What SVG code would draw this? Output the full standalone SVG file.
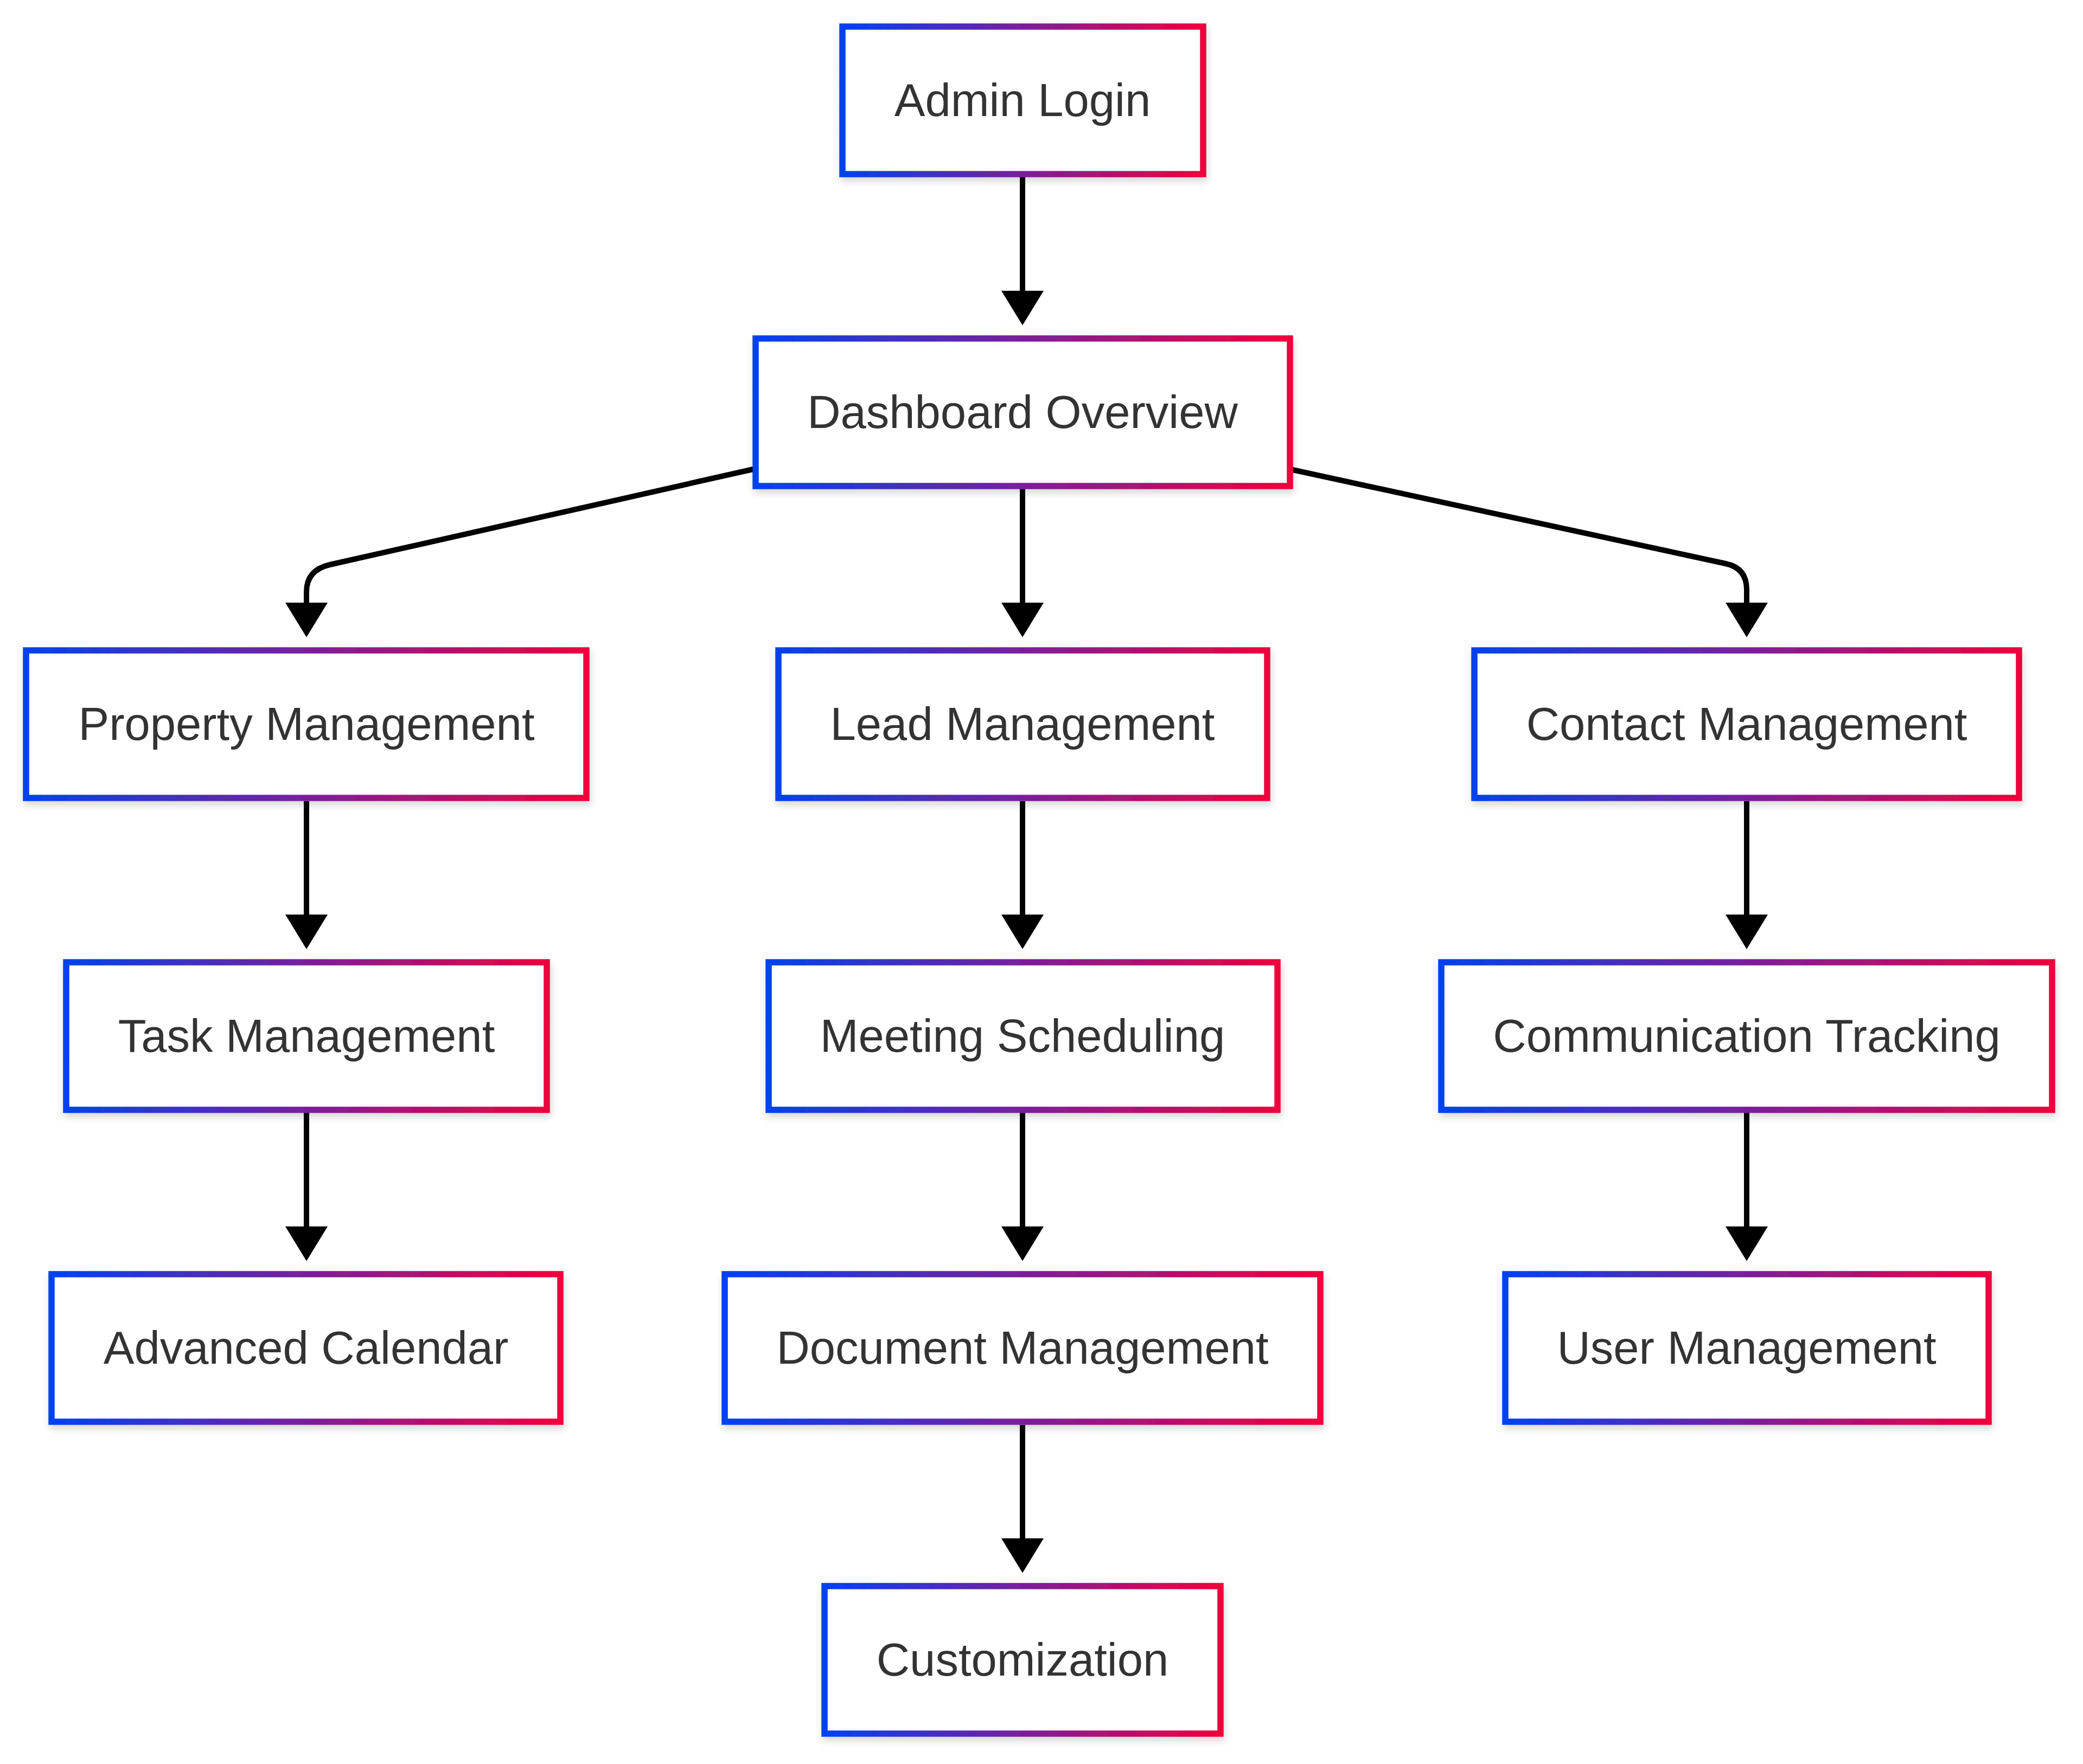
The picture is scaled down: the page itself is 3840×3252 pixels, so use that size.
<svg xmlns="http://www.w3.org/2000/svg" width="3840" height="3252" viewBox="0 0 3840 3252">
<defs>
<linearGradient id="grad" x1="0" y1="0" x2="1" y2="0">
<stop offset="0" stop-color="#0042ee"/>
<stop offset="0.5" stop-color="#7a1f9c"/>
<stop offset="1" stop-color="#f0003c"/>
</linearGradient>
<filter id="shadow" x="-10%" y="-20%" width="120%" height="150%">
<feDropShadow dx="2" dy="7" stdDeviation="7" flood-color="#000" flood-opacity="0.16"/>
</filter>
<marker id="arrow" markerUnits="userSpaceOnUse" markerWidth="64" markerHeight="78" viewBox="0 0 63 77" refX="0" refY="38.5" orient="auto" overflow="visible">
<path d="M0,0 L63,38.5 L0,77 Z" fill="#000"/>
</marker>
</defs>
<style>
.node rect{fill:#fff;stroke:url(#grad);stroke-width:11.5;filter:url(#shadow)}
.node text{font-family:"Liberation Sans",Arial,sans-serif;font-size:85px;fill:#333;text-anchor:middle}
.edge{fill:none;stroke:#000;stroke-width:10;marker-end:url(#arrow)}
</style>
<rect width="3840" height="3252" fill="#fff"/>
<g id="connectors">
<path class="edge" d="M1885,326 L1885,536"/>
<path class="edge" d="M1393,864 L608,1041 Q565,1051 565,1091 L565,1111"/>
<path class="edge" d="M1885,901 L1885,1111"/>
<path class="edge" d="M2378,865 L3181,1039 Q3220,1047 3220,1087 L3220,1111"/>
<path class="edge" d="M565,1477 L565,1686"/>
<path class="edge" d="M1885,1477 L1885,1686"/>
<path class="edge" d="M3220,1477 L3220,1686"/>
<path class="edge" d="M565,2051 L565,2261"/>
<path class="edge" d="M1885,2051 L1885,2261"/>
<path class="edge" d="M3220,2051 L3220,2261"/>
<path class="edge" d="M1885,2627 L1885,2836"/>
</g>
<g id="admin-login" class="node"><rect x="1553" y="49" width="665" height="272"/><text x="1885" y="214">Admin Login</text></g>
<g id="dashboard-overview" class="node"><rect x="1393" y="624" width="985" height="272"/><text x="1885" y="789">Dashboard Overview</text></g>
<g id="property-management" class="node"><rect x="48" y="1199" width="1033" height="272"/><text x="565" y="1364">Property Management</text></g>
<g id="lead-management" class="node"><rect x="1435" y="1199" width="901" height="272"/><text x="1885" y="1364">Lead Management</text></g>
<g id="contact-management" class="node"><rect x="2718" y="1199" width="1004" height="272"/><text x="3220" y="1364">Contact Management</text></g>
<g id="task-management" class="node"><rect x="122" y="1774" width="886" height="272"/><text x="565" y="1939">Task Management</text></g>
<g id="meeting-scheduling" class="node"><rect x="1417" y="1774" width="938" height="272"/><text x="1885" y="1939">Meeting Scheduling</text></g>
<g id="communication-tracking" class="node"><rect x="2657" y="1774" width="1126" height="272"/><text x="3220" y="1939">Communication Tracking</text></g>
<g id="advanced-calendar" class="node"><rect x="95" y="2349" width="938" height="272"/><text x="564" y="2514">Advanced Calendar</text></g>
<g id="document-management" class="node"><rect x="1336" y="2349" width="1098" height="272"/><text x="1885" y="2514">Document Management</text></g>
<g id="user-management" class="node"><rect x="2775" y="2349" width="891" height="272"/><text x="3220" y="2514">User Management</text></g>
<g id="customization" class="node"><rect x="1520" y="2924" width="730" height="272"/><text x="1885" y="3089">Customization</text></g>
</svg>
